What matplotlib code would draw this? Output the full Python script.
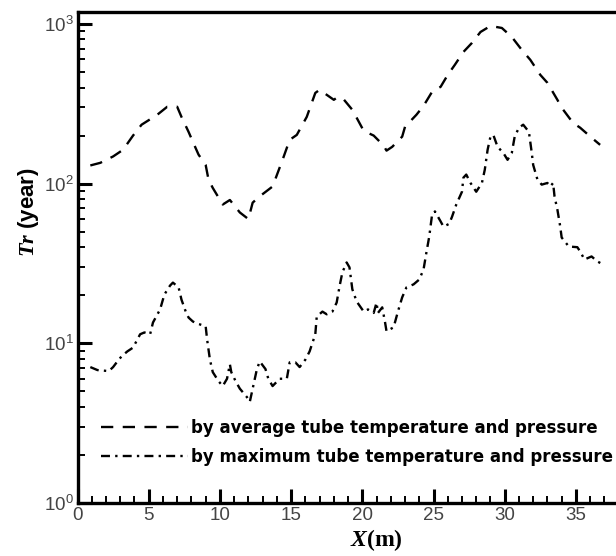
import matplotlib
matplotlib.use("Agg")
import matplotlib.pyplot as plt
from matplotlib.ticker import MultipleLocator, LogLocator, NullFormatter, FuncFormatter

# rupture time along the tube, average conditions
x_avg = [0.9, 1.6, 2.5, 3.2, 3.9, 4.5, 5.6, 6.3, 7.0, 7.3, 7.8, 8.1, 8.5, 9.0, 9.2, 9.5,
         10.2, 10.7, 11.4, 12.0, 12.3, 12.7, 13.7, 14.4, 14.9, 15.4, 16.1, 16.7, 17.0,
         18.0, 18.2, 18.6, 19.3, 19.6, 20.1, 20.8, 21.5, 21.7, 22.1, 22.8, 23.0, 23.8,
         24.3, 24.9, 25.5, 26.0, 26.5, 27.1, 27.7, 28.3, 29.0, 29.8, 30.5, 31.2, 31.8,
         32.5, 33.0, 33.7, 34.0, 34.8, 35.3, 36.1, 36.7]
tr_avg = [130, 135, 148, 163, 200, 234, 270, 303, 303, 262, 211, 183, 152, 131, 106, 94,
          74, 79, 66, 60, 76, 82, 96, 141, 188, 202, 262, 370, 387,
          335, 345, 345, 290, 259, 214, 200, 173, 161, 170, 197, 227, 270,
          307, 376, 404, 480, 555, 668, 761, 891, 972, 944, 829, 688, 596,
          480, 428, 335, 299, 240, 224, 194, 175]

# rupture time along the tube, maximum conditions
x_max = [0.9, 1.4, 2.2, 2.5, 2.8, 3.1, 3.5, 3.9, 4.4, 4.7, 5.1, 5.3, 5.8, 6.1, 6.5, 6.7,
         7.1, 7.3, 7.6, 7.8, 8.1, 8.4, 9.0, 9.1, 9.3, 9.5, 9.9, 10.2, 10.5, 10.7, 10.8,
         11.1, 11.4, 11.9, 12.1, 12.6, 12.8, 13.2, 13.4, 13.7, 14.2, 14.7, 14.9, 15.3,
         15.6, 16.0, 16.3, 16.7, 16.8, 17.2, 17.5, 17.9, 18.2, 18.4, 18.6, 18.9, 19.1,
         19.3, 19.6, 20.1, 20.4, 20.8, 21.0, 21.1, 21.4, 21.6, 21.7, 22.2, 22.5, 22.8,
         23.1, 23.6, 24.0, 24.3, 24.5, 24.7, 24.9, 25.1, 25.5, 25.7, 26.1, 26.3, 26.6,
         27.0, 27.1, 27.3, 27.6, 28.0, 28.4, 28.6, 28.8, 29.0, 29.2, 29.5, 29.9, 30.2,
         30.5, 30.7, 31.0, 31.3, 31.7, 31.9, 32.0, 32.3, 32.6, 33.0, 33.2, 33.4, 33.5,
         33.7, 33.9, 34.0, 34.5, 35.1, 35.3, 35.6, 36.1, 36.5, 36.9]
tr_max = [7.1, 6.8, 6.7, 7.1, 7.7, 8.3, 8.9, 9.4, 11.4, 11.7, 11.4, 13.5, 16.3, 20.2, 23.0, 24.0,
          22.4, 18.8, 15.8, 14.5, 13.7, 13.3, 12.8, 10.6, 7.9, 6.6, 5.8, 5.4, 6.0, 7.4, 6.6,
          5.8, 5.2, 4.6, 4.3, 6.9, 7.7, 6.9, 6.0, 5.4, 6.0, 6.0, 7.6, 7.6,
          7.1, 7.9, 8.9, 11.4, 14.7, 15.8, 15.2, 15.8, 18.0, 22.7, 27.8, 32.1, 29.9,
          21.8, 18.3, 15.8, 16.3, 15.5, 18.0, 15.5, 16.8, 13.5, 11.9, 12.6, 15.8, 19.4,
          22.4, 23.4, 25.1, 29.0, 37.0, 46.6, 64, 67, 58, 53.8, 56, 62, 74,
          89, 109, 114, 101, 89, 101, 122, 163, 197, 202, 170, 156, 141,
          156, 197, 224, 234, 211, 156, 131, 106, 98.6, 101, 96, 101, 83,
          68.8, 53.8, 46, 40.4, 40, 37.6, 33.5, 35.0, 32.6, 31.2]

legend_labels = ["by average tube temperature and pressure",
                 "by maximum tube temperature and pressure"]

plt.rcParams["mathtext.fontset"] = "custom"
plt.rcParams["mathtext.rm"] = "Liberation Sans"
plt.rcParams["mathtext.it"] = "Liberation Serif:italic:bold"

fig = plt.figure(figsize=(6.16, 5.56), dpi=100)
px_per_x = 14.24
ax_w = 42 * px_per_x
ax = fig.add_axes([77.5 / 616, 53 / 556, ax_w / 616, 491 / 556])

ax.plot(x_avg, tr_avg, color="black", lw=1.7, dashes=(5.2, 4.0),
        label=legend_labels[0])
ax.plot(x_max, tr_max, color="black", lw=1.7, dashes=(3.8, 2.2, 1.0, 2.2),
        label=legend_labels[1])

ax.set_yscale("log")
ax.set_xlim(0, 42)
ax.set_ylim(1, 10 ** 3.075)

ax.xaxis.set_major_locator(MultipleLocator(5))
ax.xaxis.set_minor_locator(MultipleLocator(1))
# the picture is cropped just past 37, so no label for 40
ax.xaxis.set_major_formatter(FuncFormatter(lambda v, p: "" if v > 37 else f"{v:g}"))
ax.yaxis.set_major_locator(LogLocator(base=10))
ax.yaxis.set_minor_locator(LogLocator(base=10, subs=range(2, 10)))
ax.yaxis.set_minor_formatter(NullFormatter())

for s in ax.spines.values():
    s.set_linewidth(2.4)
ax.tick_params(which="major", direction="in", length=10, width=2.2,
               labelsize=13.5, pad=3, top=False, right=False)
ax.tick_params(which="minor", direction="in", length=5, width=1.4,
               top=False, right=False)
for lab in ax.get_xticklabels() + ax.get_yticklabels():
    lab.set_family("Liberation Sans")
    lab.set_color("#444444")

ax.set_xlabel(r"$\mathit{X}$(m)", family="Liberation Serif", fontweight="bold",
              fontsize=17)
ax.set_ylabel(r"$\mathit{Tr}$ (year)", family="Liberation Sans", fontweight="bold",
              fontsize=16)
ax.yaxis.set_label_coords((41 - 77.5) / ax_w, (503 - 212) / 491)
ax.xaxis.set_label_coords((376 - 77.5) / ax_w, -(527 - 503) / 491)

leg = ax.legend(loc="upper left", bbox_to_anchor=(101 / 616, (556 - 419) / 556),
                bbox_transform=fig.transFigure, frameon=False,
                handlelength=5.2, handletextpad=0.2, labelspacing=0.65,
                borderpad=0, borderaxespad=0,
                prop={"family": "DejaVu Sans", "weight": "bold", "size": 12})

fig.savefig("out.png", dpi=100, facecolor="white")
